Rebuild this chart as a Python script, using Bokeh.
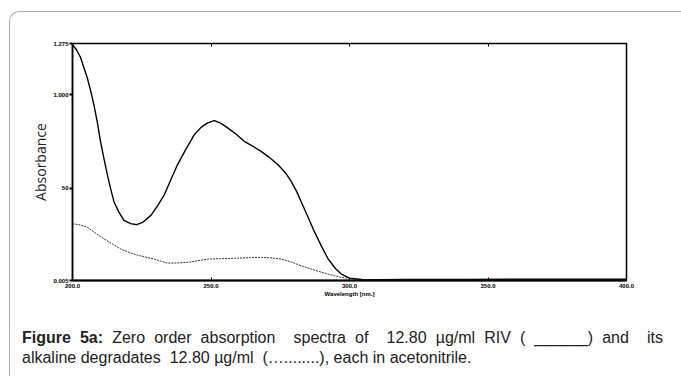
from bokeh.plotting import figure
from bokeh.models import LinearAxis, FixedTicker, Range1d, InlineStyleSheet, Div
from bokeh.layouts import column
from bokeh.embed import file_html
from bokeh.resources import INLINE

# RIV (solid) spectrum
riv_wl = [200.0, 200.2, 201.5, 202.9, 204.0, 205.3, 206.5, 207.7, 209.0, 210.1, 211.4, 212.6, 213.8,
          215.0, 216.8, 218.6, 221.0, 223.2, 225.5, 228.3, 230.7, 233.1, 235.5, 237.9, 241.0, 244.0,
          246.5, 248.8, 251.2, 253.5, 256.0, 259.0, 262.0, 265.0, 268.1, 271.0, 274.2, 277.0, 279.0,
          281.0, 282.6, 285.0, 287.4, 290.0, 292.3, 295.0, 297.1, 300.0, 304.3, 310.0, 320.0, 340.0,
          360.0, 380.0, 400.0]
riv_abs = [1.270, 1.264, 1.240, 1.200, 1.150, 1.093, 1.025, 0.949, 0.850, 0.751, 0.655, 0.571, 0.495,
           0.426, 0.370, 0.327, 0.310, 0.304, 0.318, 0.354, 0.405, 0.463, 0.545, 0.625, 0.710, 0.787,
           0.827, 0.850, 0.862, 0.848, 0.823, 0.790, 0.751, 0.725, 0.697, 0.665, 0.625, 0.580, 0.535,
           0.480, 0.426, 0.345, 0.264, 0.185, 0.120, 0.068, 0.039, 0.018, 0.010, 0.009, 0.010, 0.011,
           0.012, 0.012, 0.012]

# Alkaline degradates (dotted) spectrum
deg_wl = [200.0, 200.2, 203.0, 205.3, 208.0, 211.4, 214.5, 217.4, 220.5, 223.4, 226.5, 229.5, 232.0,
          234.3, 238.0, 241.6, 245.0, 248.8, 253.5, 258.4, 263.0, 268.1, 272.0, 275.4, 279.0, 282.6,
          287.5, 292.3, 297.0, 301.9, 310.0, 330.0, 360.0, 380.0, 400.0]
deg_abs = [0.309, 0.309, 0.302, 0.291, 0.262, 0.228, 0.200, 0.174, 0.155, 0.141, 0.130, 0.120, 0.108,
           0.098, 0.099, 0.102, 0.110, 0.120, 0.122, 0.124, 0.127, 0.129, 0.126, 0.120, 0.104, 0.084,
           0.060, 0.039, 0.022, 0.012, 0.008, 0.007, 0.007, 0.007, 0.007]

x_ticks = [200, 250, 300, 350, 400]
x_tick_labels = ["200.0", "250.0", "300.0", "350.0", "400.0"]
y_ticks = [0.005, 0.5, 1.0, 1.275]
y_tick_labels = ["0.005", "50", "1.000", "1.275"]

x_label = "Wavelength [nm.]"
y_label = "Absorbance"
caption_bold = "Figure 5a:"
caption_1 = "Zero order absorption  spectra of  12.80 \u00b5g/ml RIV ( ______) and  its"
caption_2 = "alkaline degradates  12.80 \u00b5g/ml  (\u2026........), each in acetonitrile."

W, H = 681, 376
FL, FR, FT, FB = 72, 626, 43, 280          # frame edges in canvas pixels
PH = 300                                    # figure height; caption Div below
p = figure(width=W, height=PH, output_backend="svg", toolbar_location=None,
           x_range=Range1d(200, 400), y_range=Range1d(0.005, 1.275),
           min_border_left=FL, min_border_right=W - FR, min_border_top=FT, min_border_bottom=PH - FB)
p.background_fill_color = "white"
p.border_fill_color = "white"
p.grid.visible = False
p.outline_line_color = "black"
p.outline_line_width = 1.5

p.line(riv_wl, riv_abs, line_color="black", line_width=1.4)
p.line(deg_wl, deg_abs, line_color="#333333", line_width=1.0, line_dash="2 1")

xa = p.xaxis[0]
xa.ticker = FixedTicker(ticks=x_ticks)
xa.major_label_overrides = {t: l for t, l in zip(x_ticks, x_tick_labels)}
xa.axis_line_width = 2
xa.major_tick_in = 3
xa.major_tick_out = 0
xa.minor_tick_line_color = None
xa.major_label_text_font_size = "6px"
xa.major_label_text_font_style = "bold"
xa.major_label_text_color = "black"
xa.major_label_standoff = 3
xa.axis_label = x_label
xa.axis_label_text_font_size = "6px"
xa.axis_label_text_font_style = "bold"
xa.axis_label_text_color = "black"
xa.axis_label_standoff = 0
xa.axis_label_text_font = "Liberation Sans"
xa.major_label_text_font = "Liberation Sans"

ya = p.yaxis[0]
ya.ticker = FixedTicker(ticks=y_ticks)
ya.major_label_overrides = {t: l for t, l in zip(y_ticks, y_tick_labels)}
ya.axis_line_width = 1.5
ya.major_tick_in = 0
ya.major_tick_out = 3
ya.major_tick_line_width = 2
ya.minor_tick_line_color = None
ya.major_label_text_font_size = "6px"
ya.major_label_text_font_style = "bold"
ya.major_label_text_color = "black"
ya.major_label_text_font = "Liberation Sans"
ya.major_label_standoff = 1
ya.major_label_orientation = "horizontal"
ya.axis_label = y_label
ya.axis_label_text_font = "Open Sans"
ya.axis_label_text_font_size = "14px"
ya.axis_label_text_font_style = "normal"
ya.axis_label_text_color = "#222222"
ya.axis_label_standoff = 0

top = LinearAxis(ticker=FixedTicker(ticks=[250, 300, 350]), major_label_text_font_size="0px",
                 major_tick_in=3, major_tick_out=0, minor_tick_line_color=None,
                 axis_line_color=None, major_label_text_color=None)
p.add_layout(top, "above")

caption_html = (
    '<div style="box-sizing:border-box; padding:28px 18px 0 22px; width:681px;'
    ' font-family:\'Liberation Sans\', Arial, sans-serif;'
    ' font-size:16px; line-height:20px; color:#222222;">'
    '<div style="text-align:justify; text-align-last:justify; white-space:pre-wrap; word-spacing:0;">'
    f'<b>{caption_bold}</b> {caption_1}</div>'
    f'<div style="white-space:pre;">{caption_2}</div></div>'
)
cap = Div(text=caption_html, width=W, height=H - PH, margin=0)

layout = column(p, cap, spacing=0, width=W, height=H)
layout.stylesheets = [InlineStyleSheet(css=""":host::after { content: ""; position: absolute;
  left: 9px; top: 11px; width: 720px; height: 420px; box-sizing: border-box;
  border-left: 1.2px solid #aaaaaa; border-top: 1.2px solid #aaaaaa;
  border-top-left-radius: 10px; pointer-events: none; z-index: 5; }
:host { overflow: visible; }""")]

open("out.html", "w").write(file_html(layout, INLINE))
